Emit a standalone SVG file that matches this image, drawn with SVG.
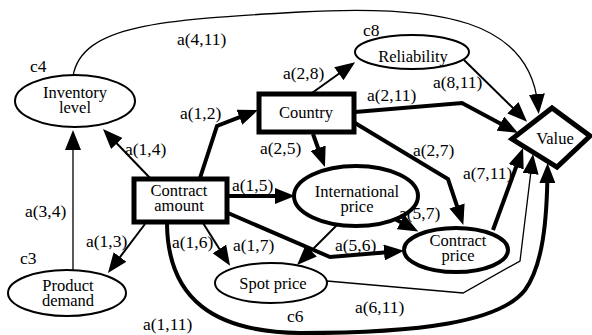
<svg xmlns="http://www.w3.org/2000/svg" width="592" height="335" viewBox="0 0 592 335">
<style>
text{font-family:"Liberation Serif","Times New Roman",serif;font-size:17.5px;fill:#000}
.c{text-anchor:middle;font-size:16.5px}
.e{fill:none;stroke:#000;stroke-linejoin:miter}
.tk{stroke-width:4}
.tn{stroke-width:2}
.hl{stroke-width:1.3}
.n{fill:#fff;stroke:#000}
</style>
<defs>
<marker id="ah" markerUnits="userSpaceOnUse" markerWidth="20" markerHeight="16" refX="12" refY="8" orient="auto" viewBox="0 0 20 16">
<path d="M0,0 L20,8 L0,16 z" fill="#000"/>
</marker>
</defs>
<g id="connectors">
<path class="e hl" d="M73,76 C82,25 160,20 300,12 C440,4 530,20 538,106" marker-end="url(#ah)"/>
<path class="e tn" d="M150,178 L108.5,134.8" marker-end="url(#ah)"/>
<path class="e hl" d="M73,270 L73,138" marker-end="url(#ah)"/>
<path class="e tn" d="M145,224 L112.8,266.6" marker-end="url(#ah)"/>
<path class="e tk" d="M200,178 L217,126 L250.6,112.9" marker-end="url(#ah)"/>
<path class="e tn" d="M312,93 L348.6,66.8" marker-end="url(#ah)"/>
<path class="e tn" d="M464,60 L521.4,116.2" marker-end="url(#ah)"/>
<path class="e tk" d="M355,112 L462,103 L511,129.2" marker-end="url(#ah)"/>
<path class="e tk" d="M313,134 L322.2,159.5" marker-end="url(#ah)"/>
<path class="e tk" d="M355,123 L448,179 L460.8,217.3" marker-end="url(#ah)"/>
<path class="e tk" d="M228,196 L287,196" marker-end="url(#ah)"/>
<path class="e tk" d="M393,218 L411.2,227.8" marker-end="url(#ah)"/>
<path class="e tk" d="M228,213 L330,257 L396,251.5" marker-end="url(#ah)"/>
<path class="e tn" d="M337,225 L302.7,259.3" marker-end="url(#ah)"/>
<path class="e tn" d="M203,223 L225.8,259.1" marker-end="url(#ah)"/>
<path class="e tk" d="M167,224 C168,300 215,332 300,333 C420,333 500,322 525,290 C543,265 547,220 547.5,171" marker-end="url(#ah)"/>
<path class="e hl" d="M327,281 L463,293 L520,261 L532.1,161.9" marker-end="url(#ah)"/>
<path class="e tk" d="M493,230 L520.3,155.5" marker-end="url(#ah)"/>
</g>
<g id="inventory">
<ellipse class="n" cx="75" cy="101" rx="60" ry="26" stroke-width="2"/>
<text class="c" x="75" y="98">Inventory</text>
<text class="c" x="75" y="113">level</text>
</g>
<g id="reliability">
<ellipse class="n" cx="412" cy="52" rx="57" ry="17" stroke-width="2"/>
<text class="c" x="413" y="62">Reliability</text>
</g>
<g id="country">
<rect class="n" x="259" y="94" width="95" height="38" stroke-width="5"/>
<text class="c" x="306" y="118">Country</text>
</g>
<g id="contract-amount">
<rect class="n" x="134" y="179" width="93" height="43" stroke-width="5"/>
<text class="c" x="179" y="196">Contract</text>
<text class="c" x="179" y="211">amount</text>
</g>
<g id="value">
<polygon class="n" points="512,139 552,108 590,136 557,167" stroke-width="5"/>
<text class="c" x="555" y="144">Value</text>
</g>
<g id="international-price">
<ellipse class="n" cx="356" cy="196" rx="62" ry="30" stroke-width="4"/>
<text class="c" x="357" y="197">International</text>
<text class="c" x="357" y="212">price</text>
</g>
<g id="contract-price">
<ellipse class="n" cx="456" cy="250" rx="52" ry="22" stroke-width="4"/>
<text class="c" x="458" y="246">Contract</text>
<text class="c" x="458" y="261">price</text>
</g>
<g id="spot-price">
<ellipse class="n" cx="271" cy="283" rx="56" ry="20" stroke-width="2"/>
<text class="c" x="273" y="289">Spot price</text>
</g>
<g id="product-demand">
<ellipse class="n" cx="67" cy="293" rx="59" ry="23" stroke-width="2"/>
<text class="c" x="68" y="291">Product</text>
<text class="c" x="68" y="306">demand</text>
</g>
<g id="labels">
<text x="30" y="72">c4</text>
<text x="177" y="45">a(4,11)</text>
<text x="363" y="36">c8</text>
<text x="283" y="79">a(2,8)</text>
<text x="433" y="88">a(8,11)</text>
<text x="180" y="119">a(1,2)</text>
<text x="367" y="101">a(2,11)</text>
<text x="125" y="155">a(1,4)</text>
<text x="260" y="154">a(2,5)</text>
<text x="413" y="156">a(2,7)</text>
<text x="232" y="191">a(1,5)</text>
<text x="25" y="217">a(3,4)</text>
<text x="463" y="179">a(7,11)</text>
<text x="399" y="219">a(5,7)</text>
<text x="86" y="247">a(1,3)</text>
<text x="172" y="248">a(1,6)</text>
<text x="233" y="251">a(1,7)</text>
<text x="335" y="251">a(5,6)</text>
<text x="20" y="264">c3</text>
<text x="355" y="313">a(6,11)</text>
<text x="287" y="322">c6</text>
<text x="143" y="330">a(1,11)</text>
</g>
</svg>
